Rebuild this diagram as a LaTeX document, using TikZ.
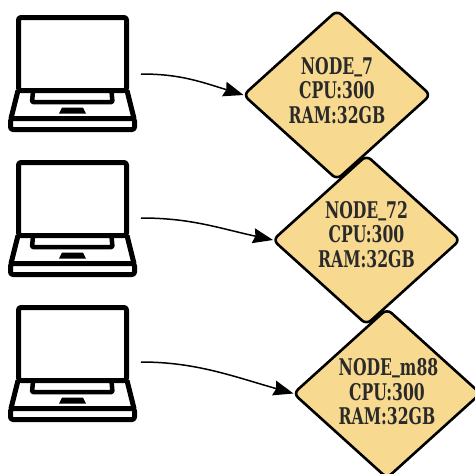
\documentclass[tikz,border=0pt]{standalone}
\usepackage{fontspec}
\setmainfont{DejaVu Serif}[BoldFont={DejaVu Serif Bold},BoldFeatures={FakeStretch=0.68}]
\usetikzlibrary{shapes.geometric,arrows.meta}
\definecolor{nodefill}{HTML}{F7DA90}
\definecolor{nodetext}{HTML}{2A2A2A}
\newcommand{\nodelabel}[2]{\makebox[0pt]{\raisebox{#1}[0pt][0pt]{\parbox{150pt}{\centering #2}}}}
\newcommand{\lowbar}{\raisebox{3pt}{\_}}
\tikzset{
  server/.style={diamond,draw=black,fill=nodefill,line width=2.6pt,rounded corners=6pt,
    aspect=1.11,minimum width=187pt,minimum height=169pt,inner sep=0pt,outer sep=0pt,
    text=nodetext,font=\bfseries\fontsize{23}{24.5}\selectfont},
  link/.style={line width=1.5pt,-{Stealth[length=20pt,width=15pt,inset=2pt]}},
  laptopline/.style={draw=black,line width=5pt,line join=round},
  laptop/.pic={
    \draw[laptopline,rounded corners=2.5pt] (18.5,91) -- (18.5,18) -- (126.5,18) -- (126.5,91) -- cycle;
    \draw[laptopline] (18,91) -- (11,119) (127,91) -- (134,119);
    \draw[laptopline,rounded corners=2.5pt] (10.5,119) -- (134.5,119) -- (134.5,130) -- (10.5,130) -- cycle;
    \draw[laptopline,line width=4.5pt,rounded corners=1pt] (33,92) -- (32,102.5) -- (112.5,102.5) -- (111.5,92);
    \fill[black] (62,108) -- (83,108) -- (86,114) -- (59,114) -- cycle;
  }
}
\begin{document}
\begin{tikzpicture}[x=1pt,y=-1pt]
\useasboundingbox (0,0) rectangle (475,474);
\clip (0,0) rectangle (475,474);
\pic at (0,-0.5) {laptop};
\pic at (0,144.5) {laptop};
\pic at (0,289.5) {laptop};
\coordinate (a) at (141,74);
\coordinate (b) at (141,218);
\coordinate (c) at (141,362);
\node[server] (n1) at (337,95) {\nodelabel{-1.5pt}{NODE\lowbar 7\\CPU:300\\RAM:32GB}};
\node[server] (n2) at (366.5,240) {\nodelabel{-0.5pt}{NODE\lowbar 72\\CPU:300\\RAM:32GB}};
\node[server] (n3) at (387,393.5) {\nodelabel{-4.5pt}{\hspace*{3pt}NODE\lowbar m88\\CPU:300\\RAM:32GB}};
\draw[link] (a) .. controls +(38,0) and +(-45,-14) .. (n1.west);
\draw[link] (b) .. controls +(50,0) and +(-55,-12) .. (n2.west);
\draw[link] (c) .. controls +(55,0) and +(-60,-17) .. (n3.west);
\end{tikzpicture}
\end{document}
